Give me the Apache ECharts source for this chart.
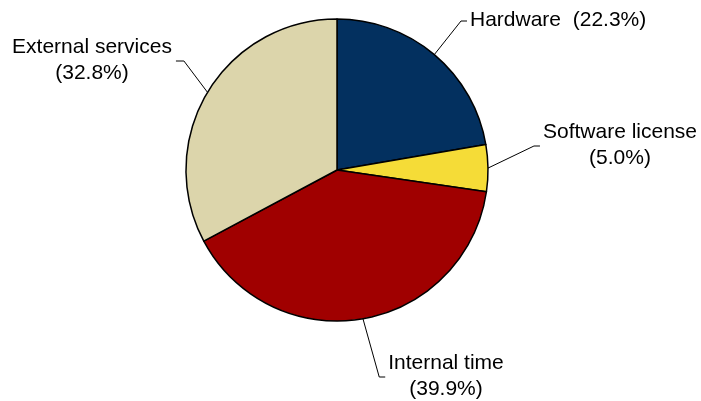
<!DOCTYPE html>
<html>
<head>
<meta charset="utf-8">
<script src="https://cdn.jsdelivr.net/npm/echarts@6/dist/echarts.min.js"></script>
<style>
  html, body { margin: 0; padding: 0; background: #fff; }
  #chart { width: 701px; height: 401px; }
</style>
</head>
<body>
<div id="chart"></div>
<script>
// data
var categories = ['Hardware', 'Software license', 'Internal time', 'External services'];
var shares = [22.3, 5.0, 39.9, 32.8];
var sliceColors = ['#03305f', '#f5dc37', '#a00000', '#dcd5ab'];

// label placement (centre x/y of each text block, which side the leader joins)
var labelPos = [
  { x: 470, y: 20, side: 'left', anchorX: 'left' },
  { x: 620, y: 145, side: 'left', anchorX: 'center' },
  { x: 446, y: 376, side: 'left', anchorX: 'center' },
  { x: 92, y: 60, side: 'right', anchorX: 'center' }
];

var chart = echarts.init(document.getElementById('chart'));

var pieData = categories.map(function (name, i) {
  return { name: name, value: shares[i], itemStyle: { color: sliceColors[i] } };
});

chart.setOption({
  animation: false,
  series: [{
    type: 'pie',
    center: [337, 170],
    radius: 151,
    startAngle: 90,
    clockwise: true,
    avoidLabelOverlap: false,
    data: pieData,
    itemStyle: {
      borderColor: '#000',
      borderWidth: 1.5
    },
    label: {
      show: true,
      position: 'outside',
      color: '#000',
      fontFamily: 'Liberation Sans, Arial, sans-serif',
      fontSize: 21,
      lineHeight: 26,
      formatter: function (p) {
        var pct = '(' + p.value.toFixed(1) + '%)';
        if (p.dataIndex === 0) return p.name + '  ' + pct;
        return '{t|' + p.name + '}\n{t|' + pct + '}';
      },
      rich: {
        t: {
          align: 'center',
          color: '#000',
          fontFamily: 'Liberation Sans, Arial, sans-serif',
          fontSize: 21,
          lineHeight: 26
        }
      }
    },
    labelLine: {
      show: true,
      length: 20,
      length2: 8,
      lineStyle: { color: '#000', width: 1 }
    },
    labelLayout: function (params) {
      var pos = labelPos[params.dataIndex];
      var w = params.labelRect.width;
      var left = pos.anchorX === 'left' ? pos.x : pos.x - w / 2;
      var right = left + w;
      var start = params.labelLinePoints ? params.labelLinePoints[0] : [pos.x, pos.y];
      var end, bend;
      if (pos.side === 'left') {
        end = [left - 3, pos.y + 1];
        bend = [end[0] - 6, end[1]];
      } else {
        end = [right + 4, pos.y + 1];
        bend = [end[0] + 8, end[1]];
      }
      return {
        x: left,
        y: pos.y,
        align: 'left',
        verticalAlign: 'middle',
        labelLinePoints: [start, bend, end]
      };
    },
    emphasis: { disabled: true }
  }]
});
</script>
</body>
</html>
